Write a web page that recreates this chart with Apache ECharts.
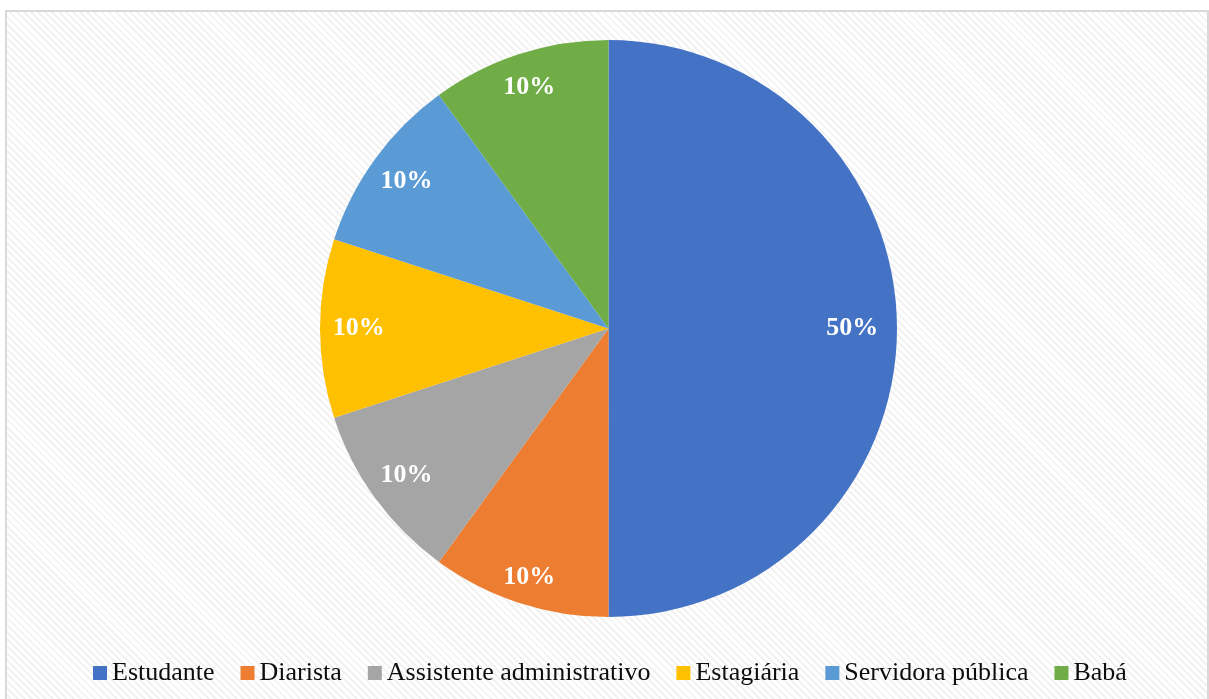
<!DOCTYPE html>
<html>
<head>
<meta charset="utf-8">
<script src="https://cdn.jsdelivr.net/npm/echarts@6/dist/echarts.min.js"></script>
<style>
  html, body { margin: 0; padding: 0; width: 1209px; height: 699px; background: #ffffff; overflow: hidden; }
  #frame {
    position: absolute; left: 5px; top: 10px; width: 1200px; height: 689px;
    border-left: 2px solid #d9d9d9; border-top: 2px solid #d9d9d9; border-right: 2px solid #d9d9d9;
    background: repeating-linear-gradient(45deg, #ffffff 0px, #ffffff 3px, #f2f2f2 3px, #f2f2f2 5px);
  }
  #chart { position: absolute; left: 0; top: 0; width: 1209px; height: 699px; }
</style>
</head>
<body>
<div id="frame"></div>
<div id="chart"></div>
<script>
// Occupation breakdown (percent of respondents)
const categories = ['Estudante', 'Diarista', 'Assistente administrativo', 'Estagiária', 'Servidora pública', 'Babá'];
const shares = [50, 10, 10, 10, 10, 10];
const colors = ['#4472c4', '#ed7d31', '#a5a5a5', '#ffc000', '#5b9bd5', '#70ad47'];

const pieData = categories.map((name, i) => ({ name, value: shares[i] }));

// small label nudges for the two slices next to the vertical divide
const labelNudge = { 'Estudante': [-6, 0], 'Diarista': [-2, 11], 'Babá': [-2, -4] };
const labelData = pieData.map(d => labelNudge[d.name]
  ? Object.assign({}, d, { label: { offset: labelNudge[d.name] } })
  : d);

const chart = echarts.init(document.getElementById('chart'), null, { renderer: 'canvas' });
chart.setOption({
  backgroundColor: 'transparent',
  animation: false,
  color: colors,
  legend: {
    data: categories,
    left: 88,
    top: 655,
    icon: 'rect',
    itemWidth: 14,
    itemHeight: 14,
    itemGap: 26,
    textStyle: { fontFamily: 'Liberation Serif', fontSize: 26, color: '#0d0d0d', padding: [0, 0, 0, 0] }
  },
  series: [
    {
      name: 'Ocupação',
      type: 'pie',
      center: [608.5, 328.5],
      radius: 288.5,
      startAngle: 90,
      clockwise: true,
      label: { show: false },
      labelLine: { show: false },
      emphasis: { disabled: true },
      data: pieData
    },
    {
      // transparent ring that carries the percentage labels near the rim
      name: 'Rótulos',
      type: 'pie',
      center: [608.5, 328.5],
      radius: [205, 288.5],
      startAngle: 90,
      clockwise: true,
      silent: true,
      legendHoverLink: false,
      percentPrecision: 0,
      itemStyle: { color: 'rgba(0,0,0,0)' },
      label: {
        show: true,
        position: 'inside',
        formatter: '{d}%',
        fontFamily: 'Liberation Serif',
        fontWeight: 'bold',
        fontSize: 26,
        color: '#ffffff'
      },
      labelLine: { show: false },
      emphasis: { disabled: true },
      data: labelData
    }
  ]
});
</script>
</body>
</html>
